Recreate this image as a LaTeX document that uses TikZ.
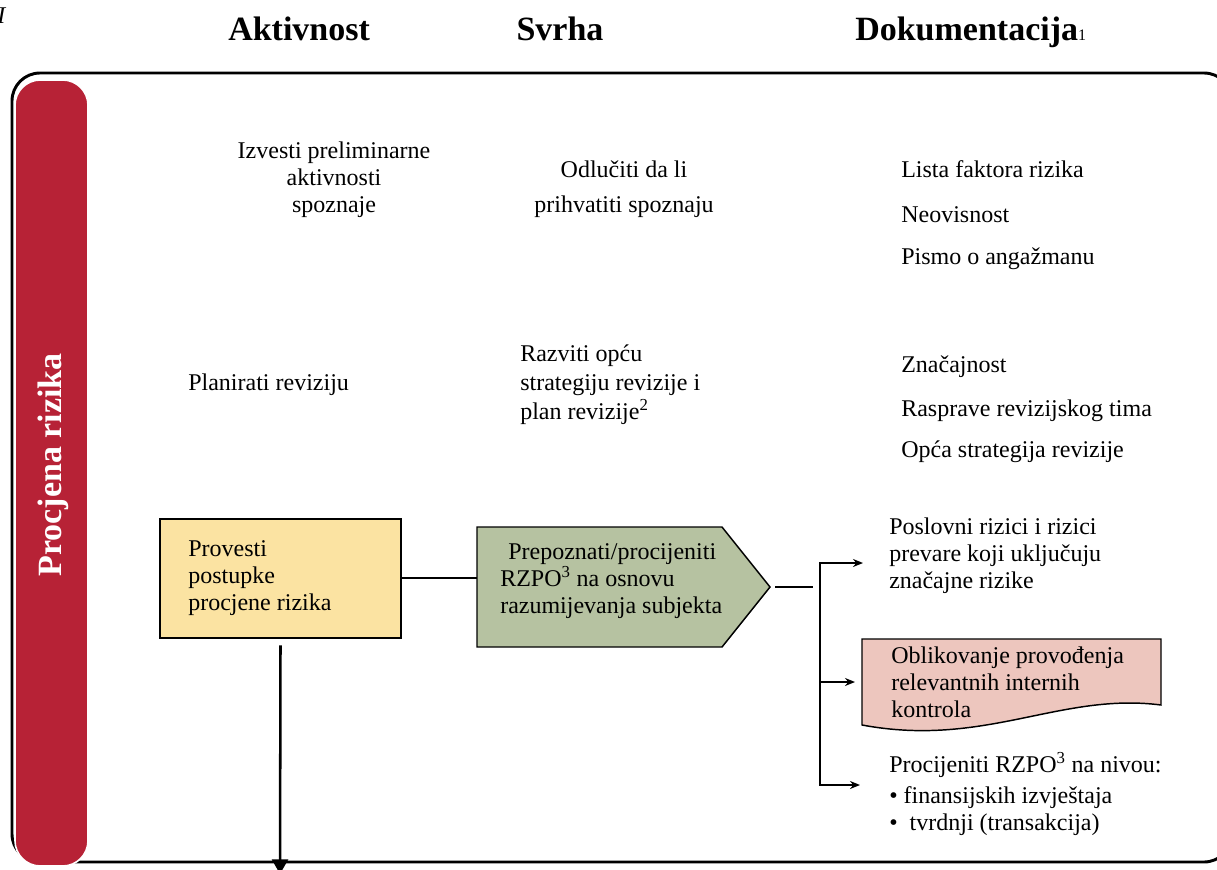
\documentclass[tikz,border=0pt]{standalone}
\usepackage{fontspec}
\setmainfont{Liberation Serif}
\usetikzlibrary{arrows.meta}

\definecolor{barred}{HTML}{B72236}
\definecolor{actfill}{HTML}{FBE3A2}
\definecolor{purpfill}{HTML}{B6C2A1}
\definecolor{docfill}{HTML}{EDC6BE}

\newcommand{\bodysize}{\fontsize{18}{20}\selectfont}
\newcommand{\headsize}{\fontsize{25.5}{30}\selectfont\bfseries}

\begin{document}
\begin{tikzpicture}[x=0.75pt,y=-0.75pt,
  body/.style={inner sep=0pt, font=\bodysize, anchor=base west, align=left},
  bodyc/.style={inner sep=0pt, font=\bodysize, anchor=base, align=center},
  head/.style={inner sep=0pt, font=\headsize, anchor=base west},
  conn/.style={line width=1.9pt},
  arr/.style={conn, -{Stealth[length=7.5pt,width=6pt]}},
  shapeline/.style={draw=black, line width=1.1pt}
]
\useasboundingbox (0,0) rectangle (1217,870);
\clip (0,0) rectangle (1217,870);

% column headings (multi-line nodes below are placed by their last baseline)
\node[inner sep=0pt, anchor=base west, font=\bodysize\itshape] (mark) at (-3,24) {I};
\node[head] (hact) at (228,41) {Aktivnost};
\node[head, anchor=base] (hsvr) at (560,41) {Svrha};
\node[head] (hdok) at (855,41) {Dokumentacija{\fontsize{12}{14}\selectfont\mdseries 1}};

% swimlane frame and lane label
\draw[line width=2.2pt, rounded corners=21pt] (12,73) rectangle (1232,862);
\draw[fill=barred, draw=white, line width=1.2pt, rounded corners=19pt] (15,80) rectangle (88,866);
\node[inner sep=0pt, rotate=90, anchor=base, font=\headsize, text=white] (lane) at (61,465) {Procjena rizika};

% row 1
\node[bodyc] (a1) at (334,212) {Izvesti preliminarne\\aktivnosti\\spoznaje};
\node[bodyc] (p1) at (624,212) {Odlučiti da li\\[6pt]prihvatiti spoznaju};
\node[body] (d11) at (901,178) {Lista faktora rizika};
\node[body] (d12) at (901,222) {Neovisnost};
\node[body] (d13) at (901,264) {Pismo o angažmanu};

% row 2
\node[body] (a2) at (188,390) {Planirati reviziju};
\node[body] (p2) at (520,419) {Razviti opću\\[1.4pt]strategiju revizije i\\[1.4pt]plan revizije\textsuperscript{2}};
\node[body] (d21) at (901,372) {Značajnost};
\node[body] (d22) at (901,416) {Rasprave revizijskog tima};
\node[body] (d23) at (901,457) {Opća strategija revizije};

% row 3: activity box
\node[shapeline, fill=actfill, minimum width=180.75pt, minimum height=89.25pt, inner sep=0pt] (act) at (280.5,578.5) {};
\node[body] (a3) at (188,610) {Provesti\\postupke\\procjene rizika};

% row 3: purpose pentagon
\draw[shapeline, fill=purpfill] (477,527) -- (722,527) -- (770,587) -- (722,647) -- (477,647) -- cycle;
\coordinate (pwest) at (477,578);
\coordinate (ptip) at (770,587);
\node[body] (p3) at (500,613) {\hspace*{6pt}Prepoznati/procijeniti\\RZPO\textsuperscript{3} na osnovu\\razumijevanja subjekta};

% row 3: documentation
\node[body] (d31) at (889,588) {Poslovni rizici i rizici\\prevare koji uključuju\\značajne rizike};
\draw[shapeline, fill=docfill] (862,639) -- (1161,639) -- (1161,705)
  .. controls (1060,692) and (985,748) .. (862,725) -- cycle;
\coordinate (doc) at (862,682);
\node[body] (d32) at (891,717) {Oblikovanje provođenja\\relevantnih internih\\kontrola};
\node[body] (d33) at (889,772) {Procijeniti RZPO\textsuperscript{3} na nivou:};
\node[body] (d34) at (889,830) {• finansijskih izvještaja\\•\ \ tvrdnji (transakcija)};

% connectors
\draw[conn] (act.east |- pwest) -- (pwest);
\coordinate (fork) at (820,587);
\draw[conn] ([xshift=3.75pt]ptip) -- ([xshift=-5.25pt]fork);
\coordinate (t1) at (863,563);
\coordinate (t3) at (860,785);
\draw[conn, line join=miter, {Stealth[length=7.5pt,width=6pt]}-{Stealth[length=7.5pt,width=6pt]}]
  (t1) -- (t1 -| fork) -- (t3 -| fork) -- (t3);
\draw[arr] (doc -| fork) -- ([xshift=-5.25pt]doc);
\coordinate (down) at (280,874);
\draw[conn, -{Stealth[length=11pt,width=12pt,inset=0pt]}] ([yshift=-5pt]act.south) -- (down);
\end{tikzpicture}
\end{document}
